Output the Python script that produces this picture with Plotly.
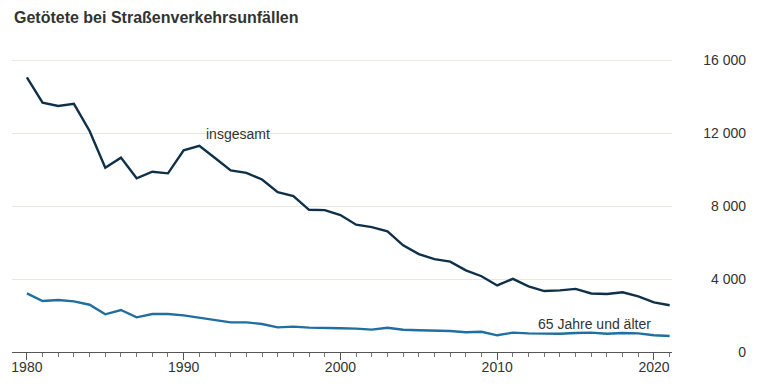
import plotly.graph_objects as go

years = list(range(1980, 2022))
insgesamt = [15050, 13660, 13480, 13600, 12110, 10100, 10650, 9520, 9880, 9790,
             11050, 11300, 10631, 9949, 9814, 9454, 8758, 8549, 7792, 7772,
             7503, 6977, 6842, 6613, 5842, 5361, 5091, 4949, 4477, 4152,
             3648, 4009, 3600, 3339, 3377, 3459, 3206, 3180, 3275, 3046,
             2719, 2562]
senioren = [3215, 2795, 2850, 2775, 2590, 2065, 2300, 1900, 2080, 2080,
            2010, 1880, 1770, 1625, 1625, 1535, 1350, 1390, 1335, 1300,
            1300, 1280, 1225, 1330, 1220, 1190, 1170, 1150, 1080, 1110,
            915, 1060, 1020, 1000, 1000, 1040, 1060, 1000, 1040, 1020,
            915, 880]
y_tickvals = [0, 4000, 8000, 12000, 16000]
y_ticktext = ["0", "4 000", "8 000", "12 000", "16 000"]
x_tickvals = [1980, 1990, 2000, 2010, 2020]

FONT = "Liberation Sans, Arial, sans-serif"
TXT = "#333333"

fig = go.Figure()
fig.add_trace(go.Scatter(x=years, y=senioren, mode="lines",
                         line=dict(color="#1f6fa0", width=2.4), hoverinfo="skip"))
fig.add_trace(go.Scatter(x=years, y=insgesamt, mode="lines",
                         line=dict(color="#0f3049", width=2.4), hoverinfo="skip"))

fig.add_annotation(x=1991.3, y=11950, text="insgesamt", showarrow=False,
                   xanchor="left", yanchor="middle", font=dict(size=14, color=TXT, family=FONT))
fig.add_annotation(x=2012.5, y=1530, text="65 Jahre und älter", showarrow=False,
                   xanchor="left", yanchor="middle", font=dict(size=14, color=TXT, family=FONT))
fig.add_annotation(xref="paper", yref="paper", x=0, y=1.106,
                   text="<b>Getötete bei Straßenverkehrsunfällen</b>", showarrow=False,
                   xanchor="left", yanchor="middle",
                   font=dict(size=16, color="#333333", family=FONT))

fig.update_layout(
    width=762, height=382,
    margin=dict(l=4, r=4, t=42, b=38),
    paper_bgcolor="white", plot_bgcolor="white",
    showlegend=False,
    font=dict(family=FONT, color=TXT, size=13),
    xaxis=dict(domain=[0, 660/754], range=[1979.05, 2021.15],
               tickvals=x_tickvals, ticks="outside", ticklen=7, tickcolor="#555555",
               showline=True, linecolor="#555555", linewidth=1, showgrid=False,
               zeroline=False, tickfont=dict(size=14, color=TXT), ticklabelstandoff=-5,
               minor=dict(dtick=1, tick0=1980, ticks="outside", ticklen=4, tickcolor="#777777",
                          showgrid=False)),
    yaxis=dict(range=[0, 16548], anchor="free", position=0.9735, side="left",
               tickvals=y_tickvals, ticktext=y_ticktext, ticks="",
               showgrid=True, gridcolor="#e8e8e3", gridwidth=1, zeroline=False,
               showline=False, tickfont=dict(size=14, color=TXT)),
)

fig.write_html("out.html")
